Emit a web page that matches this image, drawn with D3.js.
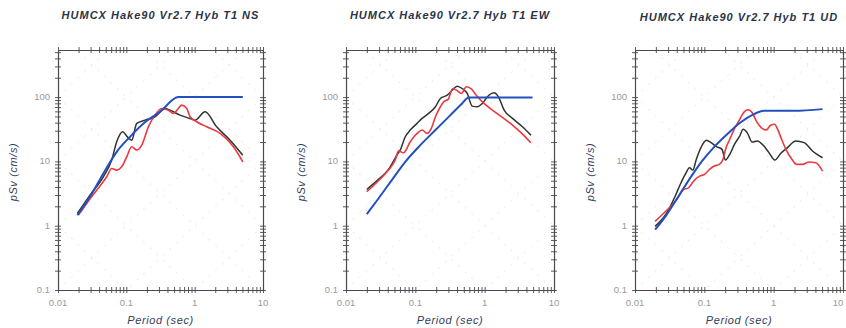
<!DOCTYPE html>
<html>
<head>
<meta charset="utf-8">
<script src="https://cdn.jsdelivr.net/npm/d3@7"></script>
<style>
  body { margin: 0; background: #fff; }
  svg { display: block; font-family: "Liberation Sans", Arial, sans-serif; }
  .title { font-size: 11px; font-weight: bold; font-style: italic; fill: #2b3448; letter-spacing: 1px; }
  .axis-label { font-size: 11px; font-style: italic; fill: #33405a; letter-spacing: 0.6px; }
  .tick-label { font-size: 9.5px; fill: #9a9a9a; }
  .axis path, .axis line { stroke: #4a4a4a; }
</style>
</head>
<body>
<svg id="chart" width="846" height="328"></svg>
<script>
// tick labels
const xTickValues = [0.01, 0.1, 1, 10];
const xTickLabels = ['0.01', '0.1', '1', '10'];
const yTickValues = [0.1, 1, 10, 100];
const yTickLabels = ['0.1', '1', '10', '100'];

const titles = ['HUMCX Hake90 Vr2.7 Hyb T1 NS', 'HUMCX Hake90 Vr2.7 Hyb T1 EW', 'HUMCX Hake90 Vr2.7 Hyb T1 UD'];

// NS component
const nsBlackT = [0.0192, 0.0294, 0.0461, 0.0611, 0.0723, 0.0885, 0.1035, 0.120, 0.142, 0.188, 0.263, 0.369, 0.437, 0.612, 0.857, 1.01, 1.42, 2.10, 3.30, 5.06];
const nsBlackV = [1.55, 2.99, 5.76, 10.5, 20.2, 28.9, 24.1, 21.4, 38.9, 43.8, 49.4, 66.6, 62.6, 52.4, 46.5, 43.8, 59.1, 34.5, 21.4, 12.5];
const nsRedT = [0.0199, 0.0263, 0.0368, 0.0516, 0.0611, 0.0723, 0.0855, 0.1013, 0.120, 0.142, 0.168, 0.210, 0.263, 0.330, 0.413, 0.489, 0.578, 0.647, 0.766, 0.857, 1.07, 1.50, 2.36, 3.69, 5.06];
const nsRedV = [1.46, 2.22, 3.57, 5.76, 7.77, 7.31, 8.24, 11.8, 16.9, 15.0, 17.9, 34.5, 52.4, 66.6, 62.6, 55.7, 66.6, 75.0, 66.6, 49.4, 41.3, 34.5, 27.2, 16.9, 9.86];
const nsBlueT = [0.0192, 0.0294, 0.0461, 0.0723, 0.113, 0.178, 0.312, 0.578, 5.06];
const nsBlueV = [1.46, 2.82, 6.49, 14.1, 24.1, 38.9, 59.1, 100, 100];

// EW component
const ewBlackT = [0.0199, 0.0294, 0.0410, 0.0542, 0.0605, 0.0716, 0.0845, 0.106, 0.125, 0.156, 0.195, 0.230, 0.288, 0.340, 0.401, 0.474, 0.560, 0.662, 0.782, 0.924, 1.15, 1.36, 1.58, 1.91, 2.52, 3.51, 4.64];
const ewBlackV = [3.66, 5.25, 7.50, 12.5, 15.0, 24.2, 30.7, 39.0, 46.6, 55.7, 70.8, 95.3, 107, 128, 148, 136, 114, 72.4, 70.8, 79.7, 107, 117, 101, 62.8, 46.6, 34.6, 25.6];
const ewRedT = [0.0199, 0.0294, 0.0410, 0.0513, 0.0573, 0.0676, 0.0845, 0.106, 0.125, 0.148, 0.170, 0.195, 0.230, 0.257, 0.297, 0.347, 0.401, 0.463, 0.542, 0.648, 0.757, 0.978, 1.29, 1.80, 2.52, 3.51, 4.64];
const ewRedV = [3.37, 5.00, 7.33, 10.5, 14.6, 13.6, 20.2, 27.2, 30.7, 27.2, 32.6, 49.4, 70.8, 84.7, 92.0, 136, 126, 114, 145, 133, 107, 79.7, 62.8, 48.3, 36.7, 26.6, 19.5];
const ewBlueT = [0.0199, 0.0294, 0.0458, 0.0716, 0.118, 0.195, 0.321, 0.449, 0.593, 4.90];
const ewBlueV = [1.51, 2.65, 5.12, 9.86, 17.9, 30.7, 52.5, 75.1, 98.8, 98.8];

// UD component
const udBlackT = [0.0195, 0.0287, 0.0379, 0.0449, 0.0530, 0.0612, 0.0684, 0.0765, 0.0894, 0.107, 0.125, 0.149, 0.180, 0.201, 0.233, 0.272, 0.325, 0.363, 0.415, 0.490, 0.579, 0.708, 0.855, 1.04, 1.26, 1.58, 2.08, 2.75, 3.63, 5.07];
const udBlackV = [0.977, 1.58, 2.87, 4.37, 6.26, 7.96, 7.32, 10.7, 16.4, 21.3, 19.6, 17.0, 15.4, 10.5, 12.9, 18.4, 24.9, 31.6, 28.0, 20.0, 20.8, 17.8, 13.7, 10.5, 13.3, 16.4, 20.8, 19.6, 14.5, 11.4];
const udRedT = [0.0195, 0.0287, 0.0401, 0.0501, 0.0592, 0.0700, 0.0855, 0.100, 0.119, 0.139, 0.165, 0.184, 0.206, 0.233, 0.272, 0.321, 0.363, 0.425, 0.496, 0.560, 0.662, 0.782, 0.904, 1.03, 1.15, 1.29, 1.52, 1.80, 2.15, 2.60, 3.25, 4.06, 5.07];
const udRedV = [1.17, 1.74, 2.55, 3.65, 3.88, 4.93, 5.90, 6.26, 7.50, 8.46, 8.98, 10.5, 16.4, 22.1, 32.4, 44.2, 56.2, 63.4, 56.2, 42.7, 33.6, 30.9, 36.5, 37.9, 30.9, 22.6, 15.0, 11.1, 8.98, 8.98, 9.77, 9.53, 7.06];
const udBlueT = [0.0195, 0.0287, 0.0424, 0.0627, 0.0925, 0.136, 0.213, 0.332, 0.519, 0.723, 1.97, 5.07];
const udBlueV = [0.866, 1.49, 2.87, 5.55, 10.1, 16.4, 26.4, 40.2, 54.2, 61.1, 61.1, 65.0];

const panelData = [
  { black: [nsBlackT, nsBlackV], red: [nsRedT, nsRedV], blue: [nsBlueT, nsBlueV] },
  { black: [ewBlackT, ewBlackV], red: [ewRedT, ewRedV], blue: [ewBlueT, ewBlueV] },
  { black: [udBlackT, udBlackV], red: [udRedT, udRedV], blue: [udBlueT, udBlueV] }
];

const panelBoxes = [
  { left: 58, right: 263 },
  { left: 346, right: 554 },
  { left: 635, right: 843 }
];
const plotTop = 50, plotBottom = 290;
const W = 846;

const svg = d3.select('#chart');

panelBoxes.forEach((box, i) => {
  const g = svg.append('g');
  const x = d3.scaleLog().domain([0.01, 10]).range([box.left, box.right]);
  const y = d3.scaleLog().domain([0.1, 540]).range([plotBottom, plotTop]);

  const clipId = 'clip' + i;
  g.append('clipPath').attr('id', clipId)
    .append('rect')
    .attr('x', box.left).attr('y', plotTop)
    .attr('width', box.right - box.left).attr('height', plotBottom - plotTop);

  // tripartite diagonals (constant displacement / acceleration)
  const diag = g.append('g').attr('clip-path', `url(#${clipId})`);
  d3.range(-4, 5).forEach(k => {
    const c = Math.pow(10, k);
    diag.append('line')
      .attr('x1', x(0.01)).attr('y1', y(c / 0.01))
      .attr('x2', x(10)).attr('y2', y(c / 10))
      .attr('stroke', '#e0e0e0').attr('stroke-width', 0.8)
      .attr('stroke-dasharray', '2,7');
    diag.append('line')
      .attr('x1', x(0.01)).attr('y1', y(c * 0.01))
      .attr('x2', x(10)).attr('y2', y(c * 10))
      .attr('stroke', '#e0e0e0').attr('stroke-width', 0.8)
      .attr('stroke-dasharray', '2,7');
  });

  // axes: minor ticks both ways, on all four sides
  const xt = x.ticks();
  const yt = y.ticks();
  [[d3.axisBottom(x), plotBottom, 3], [d3.axisBottom(x), plotBottom, -3], [d3.axisTop(x), plotTop, 3], [d3.axisTop(x), plotTop, -3]]
    .forEach(([ax, pos, size]) => {
      g.append('g').attr('class', 'axis')
        .attr('transform', `translate(0,${pos})`)
        .call(ax.tickValues(xt).tickFormat('').tickSizeInner(size).tickSizeOuter(0));
    });
  [[d3.axisLeft(y), box.left, 3], [d3.axisLeft(y), box.left, -3], [d3.axisRight(y), box.right, 3], [d3.axisRight(y), box.right, -3]]
    .forEach(([ax, pos, size]) => {
      g.append('g').attr('class', 'axis')
        .attr('transform', `translate(${pos},0)`)
        .call(ax.tickValues(yt).tickFormat('').tickSizeInner(size).tickSizeOuter(0));
    });
  g.selectAll('.axis path').attr('stroke-width', 1.1);
  g.selectAll('.axis line').attr('stroke-width', 0.9);
  g.selectAll('.axis .domain').attr('stroke', '#3a3a3a');

  // tick labels
  g.selectAll('.xlab').data(xTickValues).enter().append('text')
    .attr('class', 'tick-label')
    .attr('x', d => Math.min(x(d), W - 8)).attr('y', plotBottom + 16)
    .attr('text-anchor', 'middle')
    .text((d, j) => xTickLabels[j]);
  g.selectAll('.ylab').data(yTickValues).enter().append('text')
    .attr('class', 'tick-label')
    .attr('x', box.left - 8).attr('y', d => y(d) + 3)
    .attr('text-anchor', 'end')
    .text((d, j) => yTickLabels[j]);

  // titles & axis labels
  const cx = (box.left + box.right) / 2;
  g.append('text').attr('class', 'title')
    .attr('x', cx).attr('y', i === 2 ? 21 : 19)
    .attr('text-anchor', 'middle').text(titles[i]);
  g.append('text').attr('class', 'axis-label')
    .attr('x', cx).attr('y', 324)
    .attr('text-anchor', 'middle').text('Period (sec)');
  g.append('text').attr('class', 'axis-label')
    .attr('transform', `translate(${box.left - 41},${(plotTop + plotBottom) / 2 + 2}) rotate(-90)`)
    .attr('text-anchor', 'middle').text('pSv (cm/s)');

  // spectra
  const line = d3.line()
    .x(d => x(d[0])).y(d => y(d[1]))
    .curve(d3.curveMonotoneX);
  const pd = panelData[i];
  const series = [
    { key: 'black', color: '#2e3430', width: 1.5 },
    { key: 'red', color: '#ea3a40', width: 1.6 },
    { key: 'blue', color: '#2350c0', width: 2 }
  ];
  series.forEach(s => {
    const [ts, vs] = pd[s.key];
    g.append('path')
      .datum(ts.map((t, j) => [t, vs[j]]))
      .attr('fill', 'none')
      .attr('stroke', s.color)
      .attr('stroke-width', s.width)
      .attr('stroke-linejoin', 'round')
      .attr('d', line);
  });
});
</script>
</body>
</html>
